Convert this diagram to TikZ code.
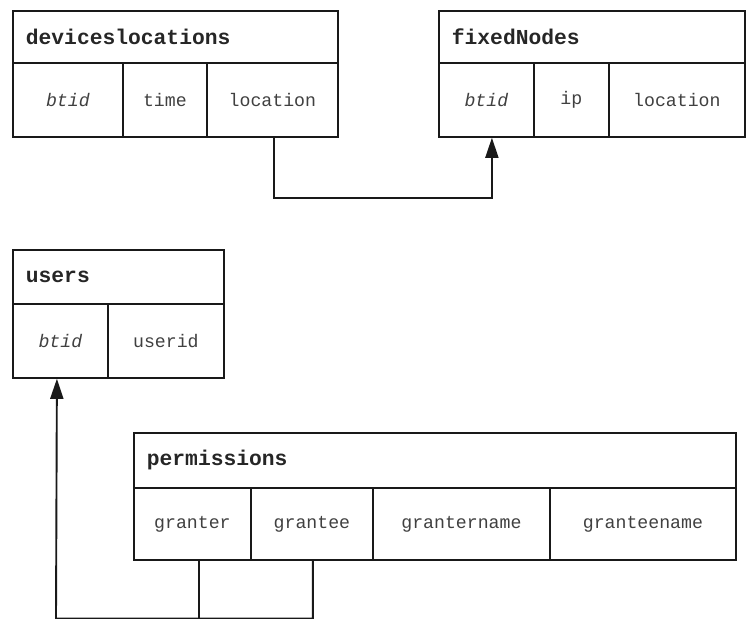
\documentclass[tikz,border=0pt]{standalone}
\usepackage{fontspec}
\setmonofont{Liberation Mono}
\usetikzlibrary{arrows.meta}

\tikzset{
  tablehead/.style={draw=black!90, line width=1.8pt, anchor=north west,
    inner xsep=13pt, inner ysep=0pt, align=left, text width=#1-26pt,
    font=\ttfamily\bfseries\fontsize{21.3}{23}\selectfont, text=black!85},
  tablecell/.style={draw=black!90, line width=1.8pt, anchor=north west,
    inner sep=0pt, minimum width=#1, minimum height=74pt,
    font=\ttfamily\fontsize{18.2}{20}\selectfont, text=black!75},
  keycell/.style={tablecell=#1, font=\ttfamily\itshape\fontsize{18.2}{20}\selectfont},
  link/.style={draw=black!90, line width=1.9pt},
  linkarrow/.style={link, -{Triangle[length=20pt,width=13pt]}},
}

\begin{document}
\begin{tikzpicture}[x=1pt,y=-1pt]
\useasboundingbox (0,0) rectangle (746,618);

% deviceslocations
\node[tablehead=325pt, minimum height=52pt] (dl) at (12,10) {deviceslocations};
\node[keycell=110pt] (dlbtid) at (12,62) {btid};
\node[tablecell=84pt] (dltime) at (122,62) {time};
\node[tablecell=131pt] (dlloc) at (206,62) {location};

% fixedNodes
\node[tablehead=306pt, minimum height=52pt] (fn) at (438,10) {fixedNodes};
\node[keycell=95pt] (fnbtid) at (438,62) {btid};
\node[tablecell=75pt] (fnip) at (533,62) {ip};
\node[tablecell=136pt] (fnloc) at (608,62) {location};

% users
\node[tablehead=211pt, minimum height=54pt] (us) at (12,249) {users};
\node[keycell=95pt] (usbtid) at (12,303) {btid};
\node[tablecell=116pt] (usid) at (107,303) {userid};

% permissions
\node[tablehead=602pt, minimum height=55pt] (pm) at (133,432) {permissions};
\node[tablecell=117pt, minimum height=72pt] (pmgr) at (133,487) {granter};
\node[tablecell=122pt, minimum height=72pt] (pmge) at (250,487) {grantee};
\node[tablecell=177pt, minimum height=72pt] (pmgrn) at (372,487) {grantername};
\node[tablecell=186pt, minimum height=72pt] (pmgen) at (549,487) {granteename};

% deviceslocations.location -> fixedNodes.btid
\draw[linkarrow] ([xshift=1.5pt]dlloc.south) -- ++(0,60)
  -| ([xshift=5.5pt]fnbtid.south);

% permissions.granter / grantee -> users.btid, joined along the bottom edge
\coordinate (base) at (56,618.6);
\coordinate (utip) at ([xshift=-3.5pt]usbtid.south);
\draw[link, line width=1.3pt] ([xshift=6.5pt]pmgr.south) -- ([xshift=6.5pt]pmgr.south |- base);
\draw[linkarrow] ([xshift=1pt]pmge.south) |- (base) -- (utip);
\end{tikzpicture}
\end{document}
